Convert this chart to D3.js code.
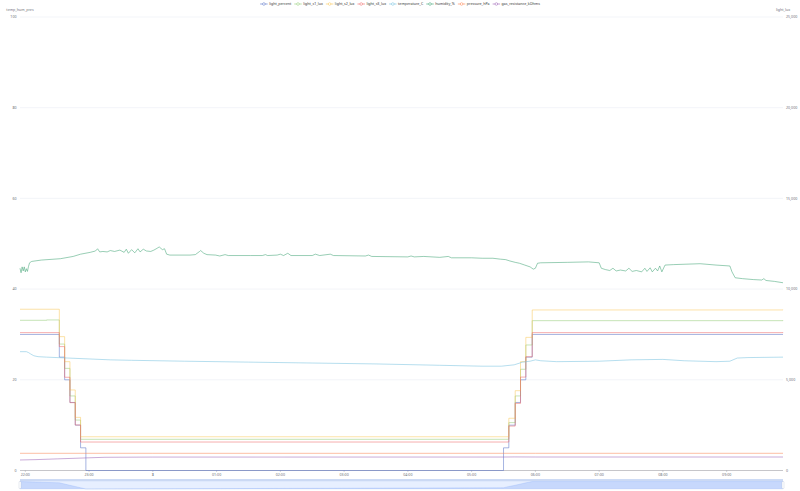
<!DOCTYPE html>
<html><head><meta charset="utf-8">
<script src="https://cdn.jsdelivr.net/npm/d3@7/dist/d3.min.js"></script>
<style>body{margin:0;background:#fff}svg{display:block}text{font-family:"Noto Sans",sans-serif}</style>
</head><body><svg id="c" width="800" height="491"></svg>
<script>
// ---------- data ----------
const seriesNames = ["light_percent","light_s1_lux","light_s2_lux","light_s3_lux","temperature_C","humidity_%","pressure_hPa","gas_resistance_kOhms"];
const seriesColors = ["#5470c6","#91cc75","#fac858","#ee6666","#73c0de","#3ba272","#fc8452","#9a60b4"];
const seriesAxis = ["left","right","right","right","left","left","right","right"];
const seriesStep = [true,true,true,true,false,false,false,false];
const leftTicks = [0,20,40,60,80,100];
const rightTicks = [0,5000,10000,15000,20000,25000];
const leftAxisName = "temp_hum_pres";
const rightAxisName = "light_lux";
const timeStart = "21:55", timeEnd = "09:53";

const lightPercent = [["21:55",30],["22:32",25],["22:37",20],["22:42",15],["22:47",10],["22:52",5],["22:57",0],["05:30",5],["05:35",10],["05:41",15],["05:46",20],["05:51",25],["05:57",30],["09:53",30]];
const lightS1 = [["21:55",8280],["22:20",8300],["22:32",6970],["22:37",5630],["22:42",4110],["22:47",2780],["22:52",1720],["05:35",2640],["05:41",4110],["05:46",5580],["05:51",6920],["05:57",8260],["09:53",8280]];
const lightS2 = [["21:55",8890],["22:32",7380],["22:37",6000],["22:42",4440],["22:47",2930],["22:52",1860],["05:35",2880],["05:41",4400],["05:46",6000],["05:51",7340],["05:57",8850],["09:53",8860]];
const lightS3 = [["21:55",7600],["22:32",6830],["22:37",5140],["22:42",3740],["22:47",2510],["22:52",1570],["05:35",2450],["05:41",3700],["05:46",5150],["05:51",6270],["05:57",7600],["09:53",7620]];
const temperature = [["21:55",26.2],["22:01",26.2],["22:03",26.0],["22:05",25.7],["22:08",25.3],["22:12",25.1],["22:20",25.0],["22:40",24.8],["23:00",24.6],["23:20",24.4],["23:40",24.3],["00:30",24.1],["01:30",23.9],["02:30",23.7],["03:30",23.5],["04:30",23.2],["05:10",23.0],["05:28",23.0],["05:40",23.3],["05:48",23.9],["05:55",24.1],["06:00",24.4],["06:05",24.2],["06:20",24.0],["07:00",24.1],["07:30",24.4],["08:00",24.5],["08:20",24.2],["08:50",24.0],["09:03",24.1],["09:10",24.8],["09:20",24.9],["09:53",25.0]];
const humidity = [["21:55",44.6],["21:56",43.6],["21:57",44.9],["21:58",44.0],["21:59",44.9],["22:00",43.8],["22:01",44.5],["22:02",43.9],["22:03",45.0],["22:04",45.8],["22:06",46.1],["22:15",46.4],["22:33",46.7],["22:45",47.2],["22:52",47.7],["23:01",48.1],["23:06",48.4],["23:08",48.9],["23:10",48.2],["23:13",48.3],["23:17",48.2],["23:20",48.5],["23:24",48.3],["23:29",48.6],["23:33",48.1],["23:35",48.8],["23:37",47.9],["23:40",48.7],["23:43",48.0],["23:46",48.9],["23:48",48.2],["23:51",48.8],["23:54",48.4],["23:58",48.3],["00:01",48.6],["00:04",49.0],["00:06",49.3],["00:09",48.7],["00:11",48.9],["00:13",47.7],["00:16",47.5],["00:35",47.5],["00:40",47.6],["00:44",48.3],["00:45",48.5],["00:48",47.9],["00:51",47.6],["00:59",47.5],["01:03",47.3],["01:08",47.6],["01:11",47.4],["01:32",47.4],["01:43",47.4],["01:46",47.6],["01:48",47.4],["01:57",47.5],["02:00",47.7],["02:03",47.4],["02:07",47.9],["02:10",47.4],["02:30",47.4],["02:33",47.7],["02:37",47.4],["02:47",47.7],["02:50",47.4],["03:20",47.3],["03:23",47.5],["03:26",47.2],["04:00",47.1],["04:03",47.3],["04:06",47.1],["04:15",47.2],["04:30",47.0],["04:38",47.2],["04:41",46.9],["05:00",46.9],["05:10",46.8],["05:20",46.8],["05:27",46.6],["05:32",46.5],["05:36",46.2],["05:41",45.9],["05:45",45.7],["05:50",45.3],["05:55",44.9],["05:58",44.4],["06:00",44.6],["06:02",45.7],["06:05",45.8],["06:30",45.9],["06:50",46.0],["07:00",45.8],["07:02",44.6],["07:06",44.3],["07:10",44.1],["07:13",44.6],["07:16",44.0],["07:20",44.2],["07:25",44.0],["07:28",44.6],["07:31",43.9],["07:35",44.1],["07:40",43.8],["07:43",44.6],["07:45",43.9],["07:48",44.7],["07:50",43.8],["07:53",44.6],["07:55",44.0],["07:57",45.1],["07:59",43.8],["08:02",45.3],["08:10",45.4],["08:35",45.6],["08:50",45.3],["09:03",45.1],["09:05",43.8],["09:08",42.5],["09:15",42.3],["09:25",42.1],["09:33",42.0],["09:35",42.3],["09:37",41.9],["09:45",41.7],["09:53",41.4]];
const pressure = [["21:55",948],["00:00",948],["03:00",947],["06:00",948],["09:53",948]];
const gasResistance = [["21:55",579],["22:10",600],["22:30",640],["23:00",700],["23:15",728],["00:00",740],["05:30",742],["05:40",748],["06:00",744],["09:53",744]];
const seriesData = [lightPercent,lightS1,lightS2,lightS3,temperature,humidity,pressure,gasResistance];

// ---------- helpers ----------
function T(s){const [h,m]=s.split(":").map(Number);return new Date(2024,0,h>=12?2:3,h,m);}
const svg = d3.select("#c");
const L=20,R=783,TOP=17,BOT=470.5;
const x = d3.scaleTime().domain([T(timeStart),T(timeEnd)]).range([L,R]);
const yL = d3.scaleLinear().domain([0,100]).range([BOT,TOP]);
const yR = d3.scaleLinear().domain([0,25000]).range([BOT,TOP]);
const FS = 3.6, TXT="#6E7079";

// grid
svg.append("g").selectAll("line").data(leftTicks.filter(d=>d>0)).join("line")
  .attr("x1",L).attr("x2",R).attr("y1",d=>yL(d)).attr("y2",d=>yL(d))
  .attr("stroke","#E0E6F1").attr("stroke-width",0.4);
svg.append("g").selectAll("text").data(leftTicks).join("text")
  .attr("x",16.5).attr("y",d=>yL(d)).attr("dy","0.35em").attr("text-anchor","end")
  .attr("font-size",FS).attr("fill",TXT).text(d=>d);
svg.append("g").selectAll("text").data(rightTicks).join("text")
  .attr("x",786).attr("y",d=>yR(d)).attr("dy","0.35em").attr("text-anchor","start")
  .attr("font-size",FS).attr("fill",TXT).text(d=>d3.format(",")(d));
svg.append("text").attr("x",L).attr("y",11).attr("text-anchor","middle").attr("font-size",FS).attr("fill",TXT).text(leftAxisName);
svg.append("text").attr("x",R).attr("y",11).attr("text-anchor","middle").attr("font-size",FS).attr("fill",TXT).text(rightAxisName);

// x axis
svg.append("line").attr("x1",L).attr("x2",R).attr("y1",BOT).attr("y2",BOT).attr("stroke","#6E7079").attr("stroke-width",0.4);
const xt = x.ticks(d3.timeHour.every(1));
svg.append("g").selectAll("line").data(xt).join("line")
  .attr("x1",d=>x(d)).attr("x2",d=>x(d)).attr("y1",BOT).attr("y2",BOT+1.5).attr("stroke","#6E7079").attr("stroke-width",0.3);
svg.append("g").selectAll("text").data(xt).join("text")
  .attr("x",d=>x(d)).attr("y",475.5).attr("text-anchor","middle").attr("font-size",FS).attr("fill",TXT)
  .attr("font-weight",d=>d.getHours()===0?"bold":"normal")
  .text(d=>d.getHours()===0?d3.timeFormat("%-d")(d):d3.timeFormat("%H:%M")(d));

// series
const g = svg.append("g");
seriesData.forEach((data,i)=>{
  const ys = seriesAxis[i]==="left"?yL:yR;
  const line = d3.line().x(d=>x(T(d[0]))).y(d=>ys(d[1])).curve(seriesStep[i]?d3.curveStepAfter:d3.curveLinear);
  g.append("path").attr("d",line(data)).attr("fill","none").attr("stroke",seriesColors[i])
    .attr("stroke-width",0.7).attr("stroke-opacity",0.75).attr("stroke-linejoin","round");
});

// legend
const lg = svg.append("g");
let cx = 0; const items=[];
seriesNames.forEach((n,i)=>{
  const it = lg.append("g");
  it.append("line").attr("x1",0).attr("x2",7.5).attr("y1",0).attr("y2",0).attr("stroke",seriesColors[i]).attr("stroke-width",0.6);
  it.append("circle").attr("cx",3.75).attr("cy",0).attr("r",1.3).attr("fill","#fff").attr("stroke",seriesColors[i]).attr("stroke-width",0.5);
  const t = it.append("text").attr("x",9).attr("y",0).attr("dy","0.35em").attr("font-size",FS).attr("fill","#333").text(n);
  const w = 9 + t.node().getComputedTextLength();
  items.push([it,cx]); cx += w + 3;
});
const tot = cx-3, off = 400 - tot/2;
items.forEach(([it,p])=>it.attr("transform",`translate(${off+p},4)`));

// data zoom slider
const sy0=481, sy1=489;
svg.append("rect").attr("x",L).attr("y",479).attr("width",R-L).attr("height",2).attr("fill","#D2DBEE").attr("opacity",0.7);
svg.append("rect").attr("x",L).attr("y",sy0).attr("width",R-L).attr("height",sy1-sy0).attr("fill","none").attr("stroke","#d2dbee").attr("stroke-width",0.4);
const ys2 = d3.scaleLinear().domain([0,30]).range([sy1,sy0+0.6]);
const area = d3.area().x(d=>x(T(d[0]))).y0(sy1).y1(d=>ys2(d[1])).curve(d3.curveLinear);
svg.append("path").attr("d",area(lightPercent)).attr("fill","#8fb0f7").attr("fill-opacity",0.35);
svg.append("path").attr("d",d3.line().x(d=>x(T(d[0]))).y(d=>ys2(d[1]))(lightPercent)).attr("fill","none").attr("stroke","#8fb0f7").attr("stroke-width",0.3);
svg.append("rect").attr("x",L).attr("y",479).attr("width",R-L).attr("height",sy1-479).attr("fill","rgb(135,175,274)").attr("fill-opacity",0.2);
[L,R].forEach(hx=>{
  svg.append("rect").attr("x",hx-1).attr("y",sy0+0.5).attr("width",2).attr("height",sy1-sy0-1).attr("rx",0.6)
    .attr("fill","#fff").attr("stroke","#ACB8D1").attr("stroke-width",0.3);
});
</script></body></html>
